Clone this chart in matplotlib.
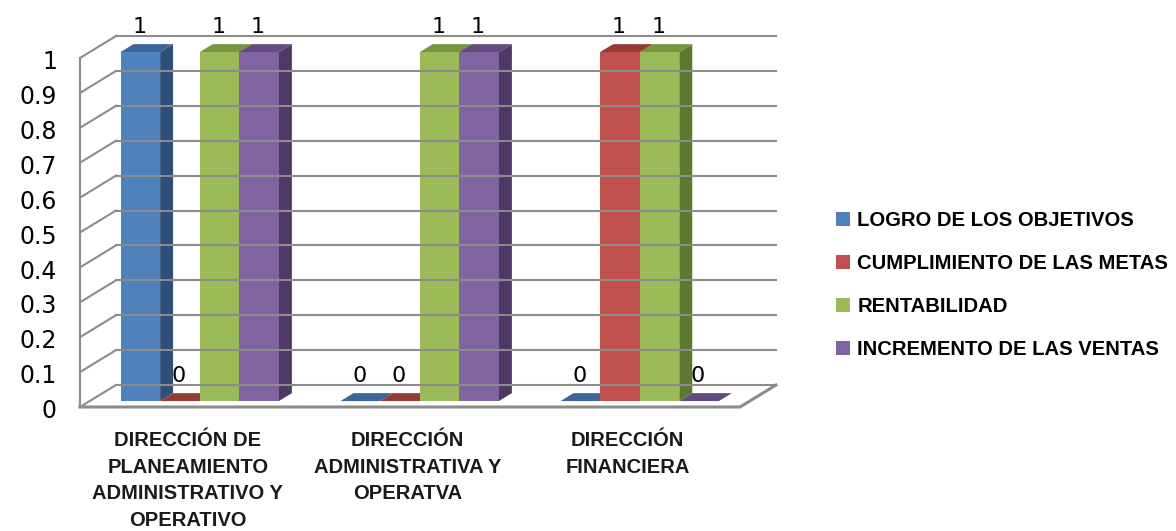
"""Clustered 3D-style column chart (Excel look) drawn with flat matplotlib patches."""

import matplotlib

matplotlib.use("Agg")
import matplotlib.pyplot as plt
from matplotlib.patches import Polygon, Patch

categories = [
    "DIRECCIÓN DE\nPLANEAMIENTO\nADMINISTRATIVO Y\nOPERATIVO",
    "DIRECCIÓN\nADMINISTRATIVA Y\nOPERATVA",
    "DIRECCIÓN\nFINANCIERA",
]
series_names = [
    "LOGRO DE LOS OBJETIVOS",
    "CUMPLIMIENTO DE LAS METAS",
    "RENTABILIDAD",
    "INCREMENTO DE LAS VENTAS",
]
logro = [1, 0, 0]
cumplimiento = [0, 0, 1]
rentabilidad = [1, 1, 1]
incremento = [1, 1, 0]
series_values = [logro, cumplimiento, rentabilidad, incremento]

y_ticks = [0, 0.1, 0.2, 0.3, 0.4, 0.5, 0.6, 0.7, 0.8, 0.9, 1]
y_tick_labels = ["0", "0.1", "0.2", "0.3", "0.4", "0.5", "0.6", "0.7", "0.8", "0.9", "1"]

front_colors = ["#4F81BD", "#C0504D", "#9BBB59", "#8064A2"]
top_colors = ["#3C6699", "#973A37", "#789640", "#634B82"]
side_colors = ["#2F4F78", "#7A2E2C", "#5E7731", "#4C3A64"]
grid_color = "#8C8C8C"

W, H = 1176, 531
fig = plt.figure(figsize=(W / 100, H / 100), dpi=100)
# front plane: x 0..3 -> px 80..740, y 0..1 -> px 407..58
ax = fig.add_axes([80 / W, (H - 407) / H, 660 / W, 349 / H])
ax.set_xlim(0, 3)
ax.set_ylim(0, 1)
ax.axis("off")

DX = 36 / 220  # full depth offset in category units
DY = 22 / 349  # full depth offset in value units


def proj(x, y, z):
    return (x + z * DX, y + z * DY)


# walls and floor
for v in y_ticks:
    ax.plot([proj(0, v, 0)[0], proj(0, v, 1)[0]], [proj(0, v, 0)[1], proj(0, v, 1)[1]],
            color=grid_color, lw=1.5, clip_on=False)
    ax.plot([proj(0, v, 1)[0], proj(3, v, 1)[0]], [proj(0, v, 1)[1], proj(3, v, 1)[1]],
            color=grid_color, lw=1.5, clip_on=False)
ax.plot([0, 0], [0, 1], color=grid_color, lw=1.5, clip_on=False)
floor = [proj(0, 0, 0), proj(3, 0, 0), proj(3, 0, 1)]
ax.plot([p[0] for p in floor], [p[1] for p in floor], color=grid_color, lw=2.2,
        clip_on=False)

# bars
bar_w = 0.18
z0, z1 = 0.27, 0.63
n = len(series_values)
for i in range(len(categories)):
    for j, vals in enumerate(series_values):
        v = vals[i]
        xl = i + 0.5 + (j - n / 2) * bar_w
        xr = xl + bar_w
        side = [proj(xr, 0, z0), proj(xr, 0, z1), proj(xr, v, z1), proj(xr, v, z0)]
        top = [proj(xl, v, z0), proj(xr, v, z0), proj(xr, v, z1), proj(xl, v, z1)]
        front = [proj(xl, 0, z0), proj(xr, 0, z0), proj(xr, v, z0), proj(xl, v, z0)]
        if v > 0:
            ax.add_patch(Polygon(side, closed=True, fc=side_colors[j], ec="none",
                                 clip_on=False))
        ax.add_patch(Polygon(top, closed=True, fc=top_colors[j], ec="none",
                             clip_on=False))
        if v > 0:
            ax.add_patch(Polygon(front, closed=True, fc=front_colors[j], ec="none",
                                 clip_on=False))
        lx, ly = proj((xl + xr) / 2, v, z0)
        ax.text(lx - 0.005, ly + 0.072, f"{v:g}", ha="center", va="center",
                fontsize=16, color="black", clip_on=False)

# value axis labels
for v, lab in zip(y_ticks, y_tick_labels):
    ax.text(-0.105, v - 0.012, lab, ha="right", va="center", fontsize=17,
            color="black", clip_on=False)

# category labels
for i, lab in enumerate(categories):
    ax.text(i + 0.49, -0.07, lab, ha="center", va="top", fontsize=14.5,
            fontweight="bold", family="Liberation Sans", linespacing=1.5,
            color="#1a1a1a", clip_on=False)

handles = [Patch(facecolor=c, edgecolor="none") for c in front_colors]
fig.legend(handles, series_names, loc="upper left",
           bbox_to_anchor=(836 / W, (H - 211) / H), frameon=False,
           prop={"family": "Liberation Sans", "weight": "bold", "size": 14.6},
           handlelength=0.7, handleheight=0.7, handletextpad=0.35,
           labelspacing=1.18, borderpad=0, borderaxespad=0)

fig.savefig("out.png", dpi=100)
